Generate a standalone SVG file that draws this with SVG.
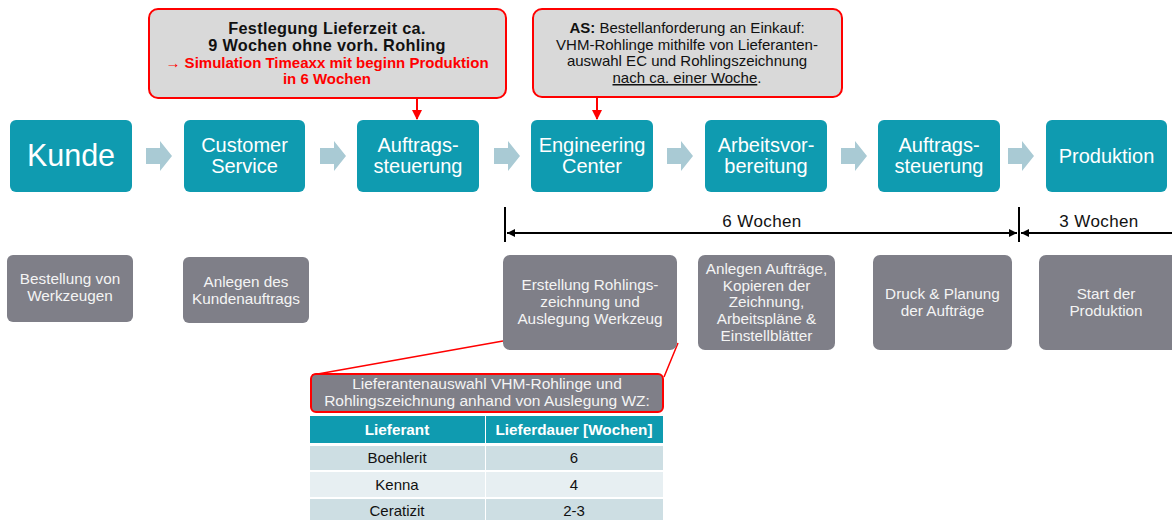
<svg xmlns="http://www.w3.org/2000/svg" width="1172" height="520" viewBox="0 0 1172 520">
  <defs>
    <style>
      text { font-family: "Liberation Sans", Arial, sans-serif; }
      .step { fill: #0f9bb0; }
      .step-t { fill: #ffffff; font-size: 20px; text-anchor: middle; }
      .task { fill: #7f7f88; }
      .task-t { fill: #f4f4f4; font-size: 15.3px; text-anchor: middle; }
      .chev { fill: #a9cad4; }
      .note { fill: #d9d9d9; stroke: #ff0000; stroke-width: 2; }
      .note-t { fill: #111111; font-size: 15px; text-anchor: middle; }
      .red { stroke: #ff0000; stroke-width: 2; fill: none; }
      .dim { stroke: #000000; stroke-width: 2; fill: none; }
      .dim-t { fill: #111111; font-size: 17px; text-anchor: middle; letter-spacing: 0.4px; }
      .cell-t { fill: #111111; font-size: 15px; text-anchor: middle; }
      .head-t { fill: #ffffff; font-size: 15.3px; font-weight: bold; text-anchor: middle; }
    </style>
    <marker id="redHead" viewBox="0 0 10 10" refX="9" refY="5" markerWidth="5" markerHeight="5" orient="auto">
      <path d="M0,0 L10,5 L0,10 z" fill="#ff0000"/>
    </marker>
    <marker id="blkHead" viewBox="0 0 10 10" refX="10" refY="5" markerWidth="4" markerHeight="4" orient="auto">
      <path d="M0,0 L10,5 L0,10 z" fill="#000000"/>
    </marker>
    <path id="chevron" d="M0,-8 H14 V-15 L26,0 L14,15 V8 H0 Z"/>
  </defs>

  <rect width="1172" height="520" fill="#ffffff"/>

  <!-- connectors: flow chevrons, callout pointers, time scale -->
  <g id="connectors">
    <use href="#chevron" class="chev" x="146" y="156"/>
    <use href="#chevron" class="chev" x="320" y="156"/>
    <use href="#chevron" class="chev" x="494" y="156"/>
    <use href="#chevron" class="chev" x="667" y="156"/>
    <use href="#chevron" class="chev" x="841" y="156"/>
    <use href="#chevron" class="chev" x="1008" y="156"/>

    <line class="red" x1="417" y1="98" x2="417" y2="119" marker-end="url(#redHead)"/>
    <line class="red" x1="597" y1="97" x2="597" y2="119" marker-end="url(#redHead)"/>

    <line x1="503" y1="341" x2="312" y2="375" stroke="#ff0000" stroke-width="1.5"/>
    <line x1="678" y1="343" x2="664" y2="377" stroke="#ff0000" stroke-width="1.5"/>

    <line class="dim" x1="505" y1="207" x2="505" y2="242"/>
    <line class="dim" x1="1019" y1="207" x2="1019" y2="242"/>
    <line class="dim" x1="762" y1="233" x2="507" y2="233" marker-end="url(#blkHead)"/>
    <line class="dim" x1="762" y1="233" x2="1017" y2="233" marker-end="url(#blkHead)"/>
    <line class="dim" x1="1172" y1="233" x2="1021" y2="233" marker-end="url(#blkHead)"/>
    <text class="dim-t" x="762" y="227">6 Wochen</text>
    <text class="dim-t" x="1099" y="227">3 Wochen</text>
  </g>

  <!-- callouts -->
  <g id="note-lieferzeit">
    <rect class="note" x="149" y="9" width="357" height="89" rx="9"/>
    <text class="note-t" font-weight="bold" x="327" y="34" style="font-size:16.3px;letter-spacing:0.3px">Festlegung Lieferzeit ca.</text>
    <text class="note-t" font-weight="bold" x="327" y="51" style="font-size:16.3px;letter-spacing:0.3px">9 Wochen ohne vorh. Rohling</text>
    <text class="note-t" font-weight="bold" x="327" y="68" style="fill:#ff0000">→ Simulation Timeaxx mit beginn Produktion</text>
    <text class="note-t" font-weight="bold" x="327" y="84" style="fill:#ff0000">in 6 Wochen</text>
  </g>
  <g id="note-bestellung">
    <rect class="note" x="533" y="9" width="309" height="88" rx="9"/>
    <text class="note-t" x="687" y="33"><tspan font-weight="bold">AS:</tspan> Bestellanforderung an Einkauf:</text>
    <text class="note-t" x="687" y="50">VHM-Rohlinge mithilfe von Lieferanten-</text>
    <text class="note-t" x="687" y="66">auswahl EC und Rohlingszeichnung</text>
    <text class="note-t" x="687" y="83"><tspan text-decoration="underline">nach ca. einer Woche</tspan>.</text>
  </g>

  <!-- process steps -->
  <g id="step-kunde">
    <rect class="step" x="10" y="120" width="122" height="72" rx="6"/>
    <text class="step-t" x="71" y="166" style="font-size:30.5px">Kunde</text>
  </g>
  <g id="step-customer-service">
    <rect class="step" x="184" y="120" width="121" height="72" rx="6"/>
    <text class="step-t" x="244.5" y="152">Customer</text>
    <text class="step-t" x="244.5" y="173">Service</text>
  </g>
  <g id="step-auftragssteuerung-1">
    <rect class="step" x="357" y="120" width="122" height="72" rx="6"/>
    <text class="step-t" x="418" y="152">Auftrags-</text>
    <text class="step-t" x="418" y="173">steuerung</text>
  </g>
  <g id="step-engineering">
    <rect class="step" x="531" y="120" width="122" height="72" rx="6"/>
    <text class="step-t" x="592" y="152">Engineering</text>
    <text class="step-t" x="592" y="173">Center</text>
  </g>
  <g id="step-arbeitsvorbereitung">
    <rect class="step" x="705" y="120" width="122" height="72" rx="6"/>
    <text class="step-t" x="766" y="152">Arbeitsvor-</text>
    <text class="step-t" x="766" y="173">bereitung</text>
  </g>
  <g id="step-auftragssteuerung-2">
    <rect class="step" x="878" y="120" width="122" height="72" rx="6"/>
    <text class="step-t" x="939" y="152">Auftrags-</text>
    <text class="step-t" x="939" y="173">steuerung</text>
  </g>
  <g id="step-produktion">
    <rect class="step" x="1046" y="120" width="121" height="72" rx="6"/>
    <text class="step-t" x="1106.5" y="163">Produktion</text>
  </g>

  <!-- tasks -->
  <g id="task-bestellung">
    <rect class="task" x="7" y="255" width="126" height="67" rx="6"/>
    <text class="task-t" x="70" y="284">Bestellung von</text>
    <text class="task-t" x="70" y="301">Werkzeugen</text>
  </g>
  <g id="task-kundenauftrag">
    <rect class="task" x="183" y="257" width="126" height="66" rx="6"/>
    <text class="task-t" x="246" y="287">Anlegen des</text>
    <text class="task-t" x="246" y="304">Kundenauftrags</text>
  </g>
  <g id="task-rohlingszeichnung">
    <rect class="task" x="503" y="255" width="174" height="95" rx="7"/>
    <text class="task-t" x="590" y="290">Erstellung Rohlings-</text>
    <text class="task-t" x="590" y="307">zeichnung und</text>
    <text class="task-t" x="590" y="324">Auslegung Werkzeug</text>
  </g>
  <g id="task-auftraege">
    <rect class="task" x="698" y="255" width="137" height="95" rx="7"/>
    <text class="task-t" x="766.5" y="274">Anlegen Aufträge,</text>
    <text class="task-t" x="766.5" y="291">Kopieren der</text>
    <text class="task-t" x="766.5" y="307">Zeichnung,</text>
    <text class="task-t" x="766.5" y="324">Arbeitspläne &amp;</text>
    <text class="task-t" x="766.5" y="341">Einstellblätter</text>
  </g>
  <g id="task-druck">
    <rect class="task" x="873" y="255" width="139" height="95" rx="7"/>
    <text class="task-t" x="942.5" y="299">Druck &amp; Planung</text>
    <text class="task-t" x="942.5" y="316">der Aufträge</text>
  </g>
  <g id="task-start">
    <rect class="task" x="1039" y="255" width="140" height="95" rx="7"/>
    <text class="task-t" x="1106" y="299">Start der</text>
    <text class="task-t" x="1106" y="316">Produktion</text>
  </g>

  <!-- supplier table -->
  <g id="supplier-table">
    <rect x="311" y="374" width="352" height="38" rx="5" fill="#7f7f88" stroke="#ff0000" stroke-width="2"/>
    <text class="task-t" x="487" y="389" style="font-size:15.5px">Lieferantenauswahl VHM-Rohlinge und</text>
    <text class="task-t" x="487" y="406" style="font-size:15.5px">Rohlingszeichnung anhand von Auslegung WZ:</text>

    <rect x="310" y="416" width="175" height="27" fill="#0f9bb0"/>
    <rect x="486" y="416" width="177" height="27" fill="#0f9bb0"/>
    <text class="head-t" x="397" y="435">Lieferant</text>
    <text class="head-t" x="574" y="435">Lieferdauer [Wochen]</text>

    <rect x="310" y="446" width="175" height="24" fill="#cddee3"/>
    <rect x="486" y="446" width="177" height="24" fill="#cddee3"/>
    <text class="cell-t" x="397" y="463">Boehlerit</text>
    <text class="cell-t" x="574" y="463">6</text>

    <rect x="310" y="472" width="175" height="25" fill="#e7eff2"/>
    <rect x="486" y="472" width="177" height="25" fill="#e7eff2"/>
    <text class="cell-t" x="397" y="490">Kenna</text>
    <text class="cell-t" x="574" y="490">4</text>

    <rect x="310" y="499" width="175" height="21" fill="#cddee3"/>
    <rect x="486" y="499" width="177" height="21" fill="#cddee3"/>
    <text class="cell-t" x="397" y="516">Ceratizit</text>
    <text class="cell-t" x="574" y="516">2-3</text>
  </g>
</svg>
